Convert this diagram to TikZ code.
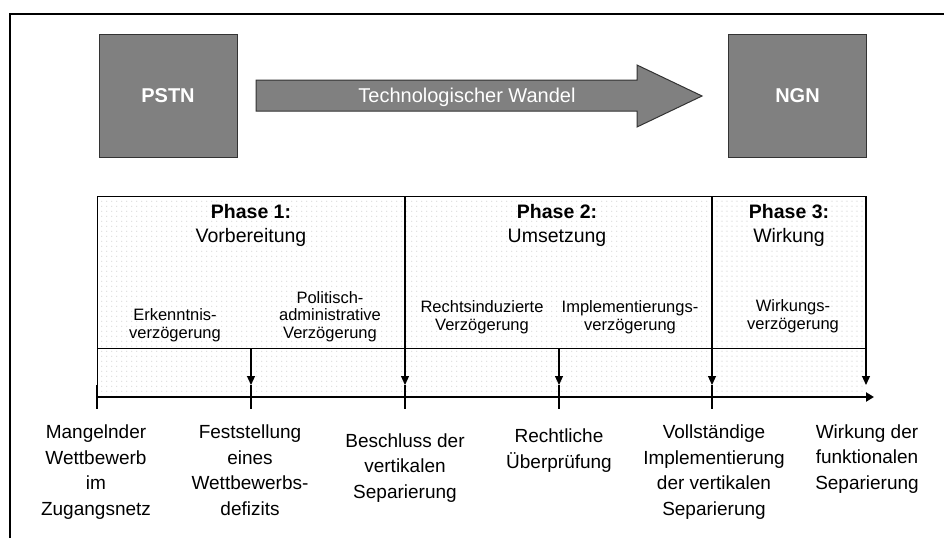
\documentclass[tikz,border=0pt]{standalone}
\usepackage{fontspec}
\setmainfont{Liberation Sans}
\usetikzlibrary{arrows.meta,patterns}
\definecolor{boxgray}{HTML}{808080}
\definecolor{dotgray}{HTML}{B8B8B8}
\definecolor{dashgray}{HTML}{D0D0D0}
\pgfdeclarepatternformonly{smalldots}{\pgfqpoint{0pt}{0pt}}{\pgfqpoint{5pt}{5pt}}{\pgfqpoint{5pt}{5pt}}%
{\pgfpathrectangle{\pgfqpoint{1.5pt}{1.5pt}}{\pgfqpoint{1pt}{1pt}}\pgfusepath{fill}}
\pgfdeclarepatternformonly{smalldashes}{\pgfqpoint{0pt}{0pt}}{\pgfqpoint{5pt}{5pt}}{\pgfqpoint{5pt}{5pt}}%
{\pgfpathrectangle{\pgfqpoint{1pt}{2pt}}{\pgfqpoint{2.5pt}{0.6pt}}\pgfusepath{fill}}
\tikzset{
  techbox/.style={draw=black!80, line width=1pt, fill=boxgray, text=white,
    font=\fontsize{20}{23}\selectfont\bfseries, minimum width=138pt,
    minimum height=123pt, inner sep=0pt},
  phaselbl/.style={font=\fontsize{19.5}{24}\selectfont, align=center, anchor=base, inner sep=0pt},
  sublbl/.style={font=\fontsize{16.5}{17.5}\selectfont, align=center, anchor=base, inner sep=0pt},
  eventlbl/.style={font=\fontsize{19}{25.5}\selectfont, align=center, anchor=base, inner sep=0pt},
  tableline/.style={line width=1pt, black},
  downarrow/.style={line width=1.2pt, black, -{Triangle[length=9pt,width=8pt]}},
  tickline/.style={line width=2.2pt, black},
  timeline/.style={line width=2.6pt, black, -{Triangle[length=8pt,width=9pt]}},
}
\begin{document}
\begin{tikzpicture}[x=1pt,y=-1pt]
\useasboundingbox (0,0) rectangle (944,538);
% outer frame
\draw[line width=2pt] (10,538) -- (10,14) -- (944,14);

% top row
\node[techbox] (pstn) at (168,95.5) {PSTN};
\node[techbox] (ngn) at (797.5,95.5) {NGN};
\draw[draw=black!80, line width=1pt, fill=boxgray]
  (256,80) -- (637,80) -- (637,65) -- (702,96) -- (637,127) -- (637,111) -- (256,111) -- cycle;
\node[text=white, font=\fontsize{20}{23}\selectfont, inner sep=0pt] (wandel) at (467,97) {Technologischer Wandel};

% table coordinates
\coordinate (tl) at (97,196);
\coordinate (tr) at (866,196);
\coordinate (p12top) at (405,196);
\coordinate (p23top) at (712,196);
\coordinate (ml) at (97,348);
\coordinate (mr) at (866,348);
\coordinate (m1) at (251,348);
\coordinate (m2) at (559,348);
\coordinate (a0) at (97,385);
\coordinate (a1) at (251,385);
\coordinate (a2) at (405,385);
\coordinate (a3) at (559,385);
\coordinate (a4) at (712,385);
\coordinate (a5) at (866,385);
\coordinate (t0) at (97,397);
\coordinate (tend) at (874,397);
\coordinate (b0) at (97,409);
\coordinate (b1) at (251,409);
\coordinate (b2) at (405,409);
\coordinate (b3) at (559,409);
\coordinate (b4) at (712,409);

% patterns
\fill[pattern=smalldots, pattern color=dotgray] (97,196) rectangle (712,397);
\fill[pattern=smalldashes, pattern color=dashgray] (712,196) rectangle (866,397);

% table lines
\draw[tableline] (a0) -- (tl) -- (tr);
\draw[tableline] (ml) -- (mr);
\draw[downarrow] (p12top) -- (a2);
\draw[downarrow] (p23top) -- (a4);
\draw[downarrow] (tr) -- (a5);
\draw[downarrow] (m1) -- (a1);
\draw[downarrow] (m2) -- (a3);

% timeline
\draw[timeline] (t0) -- (tend);
\draw[tickline] (a0) -- (b0);
\draw[tickline] (a1) -- (b1);
\draw[tickline] (a2) -- (b2);
\draw[tickline] (a3) -- (b3);
\draw[tickline] (a4) -- (b4);

% phase labels (base = baseline of last line)
\node[phaselbl] (ph1) at (251,242) {\textbf{Phase 1:}\\Vorbereitung};
\node[phaselbl] (ph2) at (557,242) {\textbf{Phase 2:}\\Umsetzung};
\node[phaselbl] (ph3) at (789,242) {\textbf{Phase 3:}\\Wirkung};

% delay labels
\node[sublbl] (erk) at (175,338) {Erkenntnis-\\verzögerung};
\node[sublbl] (pol) at (330,338) {Politisch-\\administrative\\Verzögerung};
\node[sublbl] (rech) at (482,330) {Rechtsinduzierte\\Verzögerung};
\node[sublbl] (impl) at (630,330) {Implementierungs-\\verzögerung};
\node[sublbl] (wirk) at (793,329) {Wirkungs-\\verzögerung};

% event labels
\node[eventlbl] (mang) at (96,515) {Mangelnder\\Wettbewerb\\im\\Zugangsnetz};
\node[eventlbl] (fest) at (250,515) {Feststellung\\eines\\Wettbewerbs-\\defizits};
\node[eventlbl] (besch) at (405,498) {Beschluss der\\vertikalen\\Separierung};
\node[eventlbl] (recht) at (559,468) {Rechtliche\\Überprüfung};
\node[eventlbl] (voll) at (714,515) {Vollständige\\Implementierung\\der vertikalen\\Separierung};
\node[eventlbl] (wirkf) at (867,489) {Wirkung der\\funktionalen\\Separierung};
\end{tikzpicture}
\end{document}
